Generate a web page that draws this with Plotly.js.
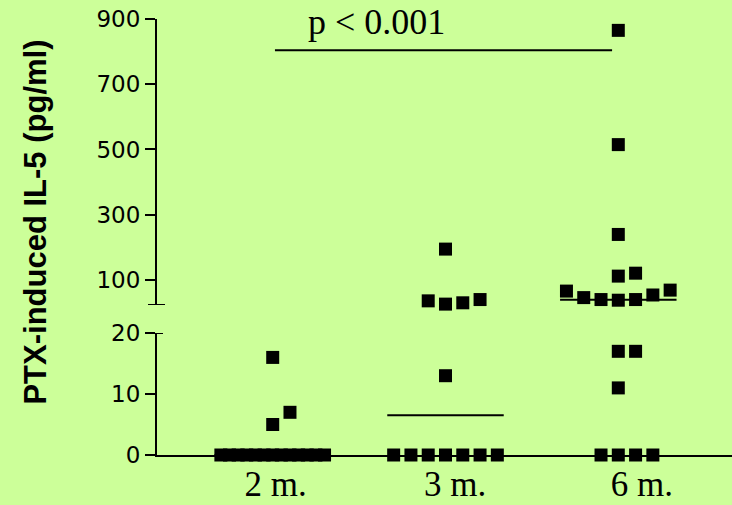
<!DOCTYPE html>
<html>
<head>
<meta charset="utf-8">
<script src="https://cdn.plot.ly/plotly-3.0.1.min.js"></script>
<style>html,body{margin:0;padding:0;background:#CCFF99;}#chart{width:732px;height:505px;}</style>
</head>
<body>
<div id="chart"></div>
<script>
// ---- data ----
const groups = ['2 m.', '3 m.', '6 m.'];
const il5_2m = [16, 7, 5, 0, 0, 0, 0, 0, 0, 0, 0, 0, 0, 0, 0, 0];
const il5_3m = [194, 35, 25, 29, 39, 13, 0, 0, 0, 0, 0, 0, 0];
const il5_6m = [866, 515, 239, 111, 120, 65, 45, 39, 37, 39, 53, 68, 17, 17, 11, 0, 0, 0, 0];
const medians = [0, 6.5, 38.6];
const lowTicks = [0, 10, 20];
const highTicks = [100, 300, 500, 700, 900];
const sigLevel = 805;
const sigText = 'p &lt; 0.001';
const yTitle = 'PTX-induced IL-5 (pg/ml)';

// ---- layout constants ----
const plotH = 455;
const lowDomain = [0, 0.2681], lowRange = [0, 20];
const highDomain = [0.3297, 0.9576], highRange = [22.3, 900];
const slot = 0.1;          // horizontal step between neighbouring points (x units)
const markerPx = 13;

function pxOf(v) {
  const [d, r] = v <= 20 ? [lowDomain, lowRange] : [highDomain, highRange];
  const frac = d[0] + (d[1] - d[0]) * (v - r[0]) / (r[1] - r[0]);
  return plotH * (1 - frac);
}

// simple swarm: group points into rows of similar height, spread them sideways
function swarm(values, centre) {
  const sorted = values.slice().sort((a, b) => a - b);
  const rows = [];
  sorted.forEach(v => {
    const last = rows[rows.length - 1];
    if (last && Math.abs(pxOf(last[0]) - pxOf(v)) <= markerPx) last.push(v);
    else rows.push([v]);
  });
  const xs = [], ys = [];
  rows.forEach(row => {
    const n = row.length;
    let offs = [];
    if (n > 7) {
      for (let i = 0; i < n; i++) offs.push(-3 + 6 * i / (n - 1));
    } else {
      const odd = n % 2 === 1;
      for (let k = 0; offs.length < n; k++) {
        if (k === 0) { offs.push(0); continue; }
        const step = Math.ceil(k / 2);
        if (odd) offs.push(k % 2 === 1 ? -step : step);
        else offs.push(k % 2 === 1 ? step : -step);
      }
    }
    row.forEach((v, i) => { xs.push(centre + offs[i] * slot); ys.push(v); });
  });
  return {xs, ys};
}

const traces = [];
const lowX = [], lowY = [], highX = [], highY = [];
[il5_2m, il5_3m, il5_6m].forEach((vals, gi) => {
  const s = swarm(vals, gi);
  s.ys.forEach((v, i) => {
    if (v <= 20) { lowX.push(s.xs[i]); lowY.push(v); }
    else { highX.push(s.xs[i]); highY.push(v); }
  });
});
const mk = {symbol: 'square', size: markerPx, color: '#000000', line: {width: 0}};
traces.push({type: 'scatter', mode: 'markers', x: lowX, y: lowY, yaxis: 'y', marker: mk, cliponaxis: false, hoverinfo: 'skip'});
traces.push({type: 'scatter', mode: 'markers', x: highX, y: highY, yaxis: 'y2', marker: mk, cliponaxis: false, hoverinfo: 'skip'});

// median lines
medians.forEach((m, gi) => {
  traces.push({type: 'scatter', mode: 'lines', x: [gi - 0.337, gi + 0.337], y: [m, m],
    yaxis: m <= 20 ? 'y' : 'y2', line: {color: '#000000', width: 2}, cliponaxis: false, hoverinfo: 'skip'});
});
// significance bar (2 m. vs 6 m.)
traces.push({type: 'scatter', mode: 'lines', x: [0.013, 1.964], y: [sigLevel, sigLevel], yaxis: 'y2',
  line: {color: '#000000', width: 2}, cliponaxis: false, hoverinfo: 'skip'});

const axisCommon = {
  showline: true, linecolor: '#000000', linewidth: 2,
  ticks: 'outside', ticklen: 10, tickwidth: 2, tickcolor: '#000000',
  showgrid: false, zeroline: false, fixedrange: true,
  tickfont: {family: 'DejaVu Sans', size: 23, color: '#000000'}
};

const layout = {
  width: 732, height: 505,
  margin: {l: 157, r: 0, t: 0, b: 50},
  paper_bgcolor: '#CCFF99', plot_bgcolor: '#CCFF99',
  showlegend: false,
  xaxis: {
    range: [-0.6696, 2.658], anchor: 'y',
    showline: true, linecolor: '#000000', linewidth: 2,
    ticks: '', showgrid: false, zeroline: false, fixedrange: true,
    tickvals: [0.017, 1.056, 2.137], ticktext: groups,
    ticklabelstandoff: -3,
    tickfont: {family: 'Liberation Serif', size: 35, color: '#000000'}
  },
  yaxis: Object.assign({}, axisCommon, {domain: lowDomain, range: lowRange, tickvals: lowTicks, anchor: 'x'}),
  yaxis2: Object.assign({}, axisCommon, {domain: highDomain, range: highRange, tickvals: highTicks, anchor: 'x'}),
  shapes: [
    {type: 'line', xref: 'paper', yref: 'y2', x0: -0.0157, x1: 0.0139, y0: highRange[0], y1: highRange[0], line: {color: '#000000', width: 2}},
    {type: 'line', xref: 'paper', yref: 'y', x0: -0.0174, x1: 0.0104, y0: lowRange[1], y1: lowRange[1], line: {color: '#000000', width: 2}}
  ],
  annotations: [
    {text: sigText, xref: 'x', yref: 'paper', x: 0.6, y: 0.9516, xanchor: 'center', yanchor: 'middle', showarrow: false,
     font: {family: 'Liberation Serif', size: 36, color: '#000000'}},
    {text: '<b>' + yTitle + '</b>', xref: 'paper', yref: 'paper', x: -0.212, y: 0.511, xanchor: 'center', yanchor: 'middle',
     textangle: -90, showarrow: false, font: {family: 'Liberation Sans', size: 31, color: '#000000'}}
  ]
};

Plotly.newPlot('chart', traces, layout, {staticPlot: true, displayModeBar: false});
</script>
</body>
</html>
